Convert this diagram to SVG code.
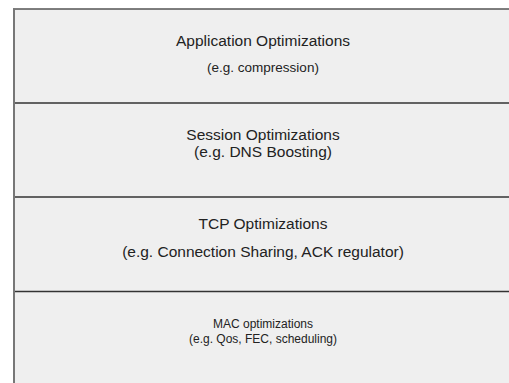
<svg xmlns="http://www.w3.org/2000/svg" width="509" height="383" viewBox="0 0 509 383">
<style>
text{font-family:"Liberation Sans",Arial,sans-serif;fill:#222;text-anchor:middle}
.l{font-size:15.5px}.m{font-size:13.5px}.s{font-size:12px}
.div{stroke:#333;stroke-width:1.5}
</style>
<rect x="0" y="0" width="509" height="383" fill="#fff"/>
<rect x="14" y="9" width="500" height="380" fill="#efefef"/>
<g id="connectors">
<line class="div" x1="14" y1="103" x2="509" y2="103"/>
<line class="div" x1="14" y1="197" x2="509" y2="197"/>
<line class="div" x1="14" y1="291.5" x2="509" y2="291.5"/>
</g>
<line x1="13" y1="9" x2="509" y2="9" stroke="#555" stroke-width="1.5"/>
<line x1="14" y1="8.5" x2="14" y2="383" stroke="#777" stroke-width="2"/>
<g id="application">
<text class="l" x="263" y="46">Application Optimizations</text>
<text class="m" x="263" y="72">(e.g. compression)</text>
</g>
<g id="session">
<text class="l" x="263" y="140">Session Optimizations</text>
<text class="l" x="263" y="157">(e.g. DNS Boosting)</text>
</g>
<g id="tcp">
<text class="l" x="263" y="228.5">TCP Optimizations</text>
<text class="l" x="263" y="256.5">(e.g. Connection Sharing, ACK regulator)</text>
</g>
<g id="mac">
<text class="s" x="263" y="327.5">MAC optimizations</text>
<text class="s" x="263" y="343">(e.g. Qos, FEC, scheduling)</text>
</g>
</svg>
